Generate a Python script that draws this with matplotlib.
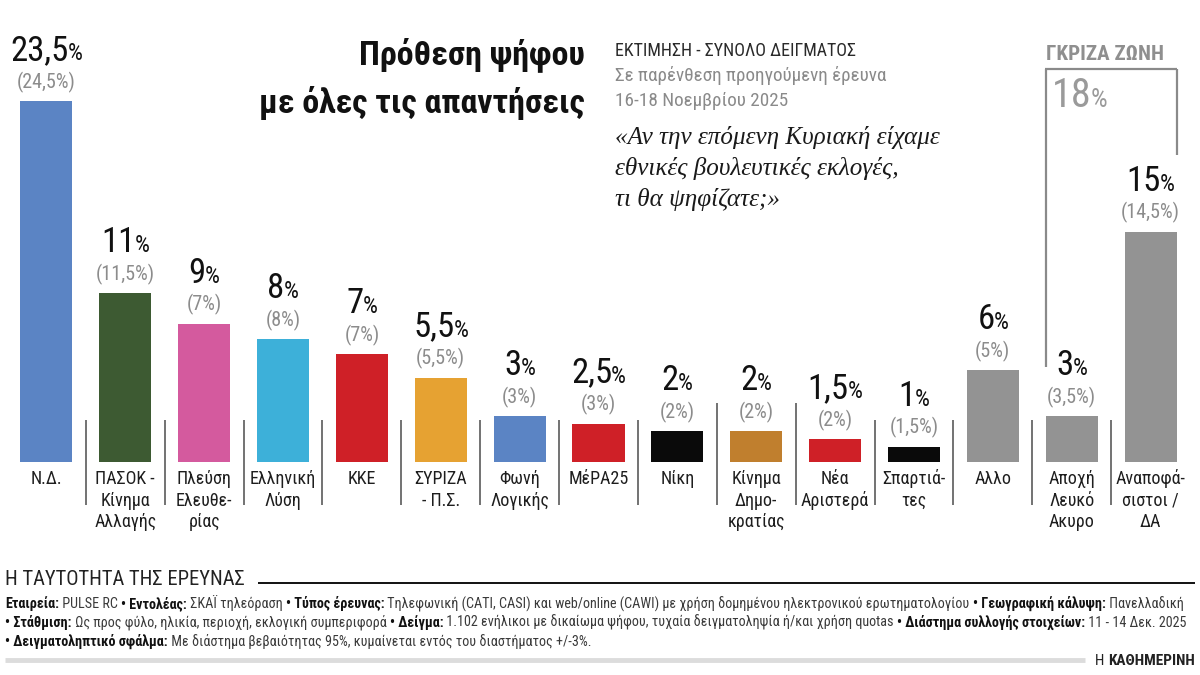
import matplotlib
matplotlib.use('Agg')
import matplotlib.pyplot as plt
from matplotlib import font_manager as fm
from matplotlib.font_manager import FontProperties
from matplotlib.lines import Line2D

# ---------------- data ----------------
categories = ["Ν.Δ.", "ΠΑΣΟΚ -\nΚίνημα\nΑλλαγής", "Πλεύση\nΕλευθε-\nρίας", "Ελληνική\nΛύση",
              "ΚΚΕ", "ΣΥΡΙΖΑ\n- Π.Σ.", "Φωνή\nΛογικής", "ΜέΡΑ25", "Νίκη",
              "Κίνημα\nΔημο-\nκρατίας", "Νέα\nΑριστερά", "Σπαρτιά-\nτες", "Αλλο",
              "Αποχή\nΛευκό\nΑκυρο", "Αναποφά-\nσιστοι /\nΔΑ"]
values = [23.5, 11, 9, 8, 7, 5.5, 3, 2.5, 2, 2, 1.5, 1, 6, 3, 15]
previous = [24.5, 11.5, 7, 8, 7, 5.5, 3, 3, 2, 2, 2, 1.5, 5, 3.5, 14.5]
colors = ["#5b84c4", "#3d5a32", "#d45a9e", "#3db0d9", "#cf2027", "#e6a232", "#5b84c4",
          "#cf2027", "#0a0a0a", "#c07f2e", "#cf2027", "#0a0a0a", "#939393", "#939393", "#939393"]
grey_zone_total = 18

title_lines = ["Πρόθεση ψήφου", "με όλες τις απαντήσεις"]
header_lines = ["ΕΚΤΙΜΗΣΗ - ΣΥΝΟΛΟ ΔΕΙΓΜΑΤΟΣ", "Σε παρένθεση προηγούμενη έρευνα", "16-18 Νοεμβρίου 2025"]
question_lines = ["«Αν την επόμενη Κυριακή είχαμε", "εθνικές βουλευτικές εκλογές,", "τι θα ψηφίζατε;»"]
grey_zone_title = "ΓΚΡΙΖΑ ΖΩΝΗ"
survey_title = "Η ΤΑΥΤΟΤΗΤΑ ΤΗΣ ΕΡΕΥΝΑΣ"
info_lines = [
    [("Εταιρεία:", True), (" PULSE RC ", False), ("• Εντολέας:", True), (" ΣΚΑΪ τηλεόραση ", False),
     ("• Τύπος έρευνας:", True),
     (" Τηλεφωνική (CATI, CASI) και web/online (CAWI) με χρήση δομημένου ηλεκτρονικού ερωτηματολογίου ", False),
     ("• Γεωγραφική κάλυψη:", True), (" Πανελλαδική", False)],
    [("• Στάθμιση:", True), (" Ως προς φύλο, ηλικία, περιοχή, εκλογική συμπεριφορά ", False),
     ("• Δείγμα:", True), (" 1.102 ενήλικοι με δικαίωμα ψήφου, τυχαία δειγματοληψία ή/και χρήση quotas ", False),
     ("• Διάστημα συλλογής στοιχείων:", True), (" 11 - 14 Δεκ. 2025", False)],
    [("• Δειγματοληπτικό σφάλμα:", True),
     (" Με διάστημα βεβαιότητας 95%, κυμαίνεται εντός του διαστήματος +/-3%.", False)],
]
source = [("Η ", False), ("ΚΑΘΗΜΕΡΙΝΗ", True)]

# ---------------- setup ----------------
W, H = 1200, 675
fig = plt.figure(figsize=(12, 6.75), dpi=100)
fig.patch.set_facecolor('white')
R = fig.canvas.get_renderer()

names = {f.name for f in fm.fontManager.ttflist}
def pick(*cands):
    for c in cands:
        if c in names:
            return c
    return 'DejaVu Sans'
NARROW = pick('Liberation Sans Narrow', 'Roboto Condensed', 'DejaVu Sans')
SERIF = pick('Liberation Serif', 'DejaVu Serif')

def FP(size, weight='normal', style='normal', family=None):
    return FontProperties(family=family or NARROW, size=size, weight=weight, style=style,
                          stretch='condensed')

def tw(s, fp):
    w1 = R.get_text_width_height_descent('|' + s + '|', fp, ismath=False)[0]
    w0 = R.get_text_width_height_descent('||', fp, ismath=False)[0]
    return w1 - w0

def put(x, y, s, fp, color, ha='left'):
    # x, y in pixels, y measured from top; baseline anchored
    fig.text(x / W, 1 - y / H, s, fontproperties=fp, color=color, ha=ha, va='baseline')

def place_runs(x, y, runs, ha='left'):
    # runs: (text, fontprops, colour[, dx before])
    runs = [r if len(r) == 4 else (r[0], r[1], r[2], 0.0) for r in runs]
    widths = [tw(s, fp) + dx for s, fp, c, dx in runs]
    total = sum(widths)
    cur = x - total / 2 if ha == 'center' else (x - total if ha == 'right' else x)
    for (s, fp, c, dx), w in zip(runs, widths):
        put(cur + dx, y, s, fp, c)
        cur += w
    return total

def fit_size(s, target, weight='normal', style='normal', family=None, base=20):
    return base * target / tw(s, FP(base, weight, style, family))

def hline(x0, x1, y, color, lw):
    fig.add_artist(Line2D([x0 / W, x1 / W], [1 - y / H, 1 - y / H], color=color, lw=lw,
                          transform=fig.transFigure, solid_capstyle='butt'))

def vline(x, y0, y1, color, lw):
    fig.add_artist(Line2D([x / W, x / W], [1 - y0 / H, 1 - y1 / H], color=color, lw=lw,
                          transform=fig.transFigure, solid_capstyle='butt'))

def fmt(v):
    return f"{v:g}".replace('.', ',')

# ---------------- bars ----------------
ax = fig.add_axes([7 / W, 213 / H, 1183 / W, 384 / H])
xs = list(range(len(values)))
ax.bar(xs, values, width=0.66, color=colors)
ax.set_xlim(-0.5, len(values) - 0.5)
ax.set_ylim(0, 25)
ax.axis('off')

def px(xd, yd):
    X, Y = ax.transData.transform((xd, yd))
    return X, H - Y

val_fp, pct_fp = FP(25), FP(17)
prev_fp = FP(14.5)
cat_fp = FP(13)
for i, (v, p, cat) in enumerate(zip(values, previous, categories)):
    cx, top = px(i, v)
    place_runs(cx, top - 41, [(fmt(v), val_fp, '#111111'), ('%', pct_fp, '#111111', -1.0)], ha='center')
    put(cx, top - 13, f"({fmt(p)}%)", prev_fp, '#8c8c8c', ha='center')
    for k, line in enumerate(cat.split('\n')):
        put(cx, 484 + k * 21.5, line, cat_fp, '#1e1e1e', ha='center')

# separators
for i in range(len(values) - 1):
    sx, _ = px(i + 0.5, 0)
    y0 = 403 if i in (8, 9) else 420
    vline(sx, y0, 505, '#5a5a5a', 1.2)

# ---------------- grey zone ----------------
lx, _ = px(13 - 0.33, 0)
rx, _ = px(14 + 0.33, 0)
vline(lx, 69, 367, '#8a8a8a', 1.6)
vline(rx, 69, 155, '#8a8a8a', 1.6)
hline(lx - 0.8, rx + 0.8, 69, '#8a8a8a', 1.6)
gz_size = fit_size(grey_zone_title, 118, weight='bold')
put(lx, 60, grey_zone_title, FP(gz_size, 'bold'), '#8f8f8f')
place_runs(lx + 6, 107, [(str(grey_zone_total), FP(29), '#9a9a9a'), ('%', FP(19), '#9a9a9a', -1.0)])

# ---------------- title ----------------
t_size = fit_size(title_lines[1], 326, weight='bold')
put(585, 64, title_lines[0], FP(t_size, 'bold'), '#111111', ha='right')
put(585, 113, title_lines[1], FP(t_size, 'bold'), '#111111', ha='right')

# ---------------- header ----------------
h1 = fit_size(header_lines[0], 240)
put(615, 56, header_lines[0], FP(h1), '#2a2a2a')
h2 = fit_size(header_lines[1], 272)
put(615, 81, header_lines[1], FP(h2), '#8a8a8a')
put(615, 106, header_lines[2], FP(h2), '#8a8a8a')

q_size = fit_size(question_lines[0], 325, style='italic', family=SERIF)
for k, line in enumerate(question_lines):
    put(615, 144 + k * 31, line, FP(q_size, style='italic', family=SERIF), '#1a1a1a')

# ---------------- survey info ----------------
s_size = fit_size(survey_title, 240)
put(5, 585, survey_title, FP(s_size), '#222222')
hline(258, 1195, 583, '#111111', 1.4)

base = 9.0
def line_width(size):
    return sum(tw(s, FP(size, 'bold' if b else 'normal')) for s, b in info_lines[0])
i_size = base * 1175 / line_width(base)
for k, line in enumerate(info_lines):
    runs = [(s, FP(i_size, 'bold' if b else 'normal'), '#111111' if b else '#3a3a3a') for s, b in line]
    place_runs(5, 608 + k * 19, runs)

hline(5, 1085, 660, '#dcdcdc', 3.5)
src_runs = [(s, FP(11, 'bold' if b else 'normal'), '#222222') for s, b in source]
place_runs(1195, 665, src_runs, ha='right')

fig.savefig('out.png', dpi=100, facecolor='white')
